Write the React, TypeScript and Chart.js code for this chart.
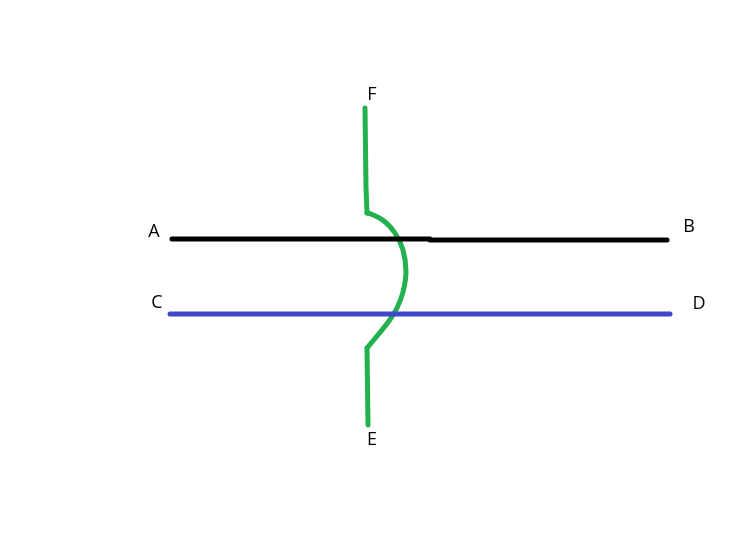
import React, { useEffect, useRef } from "react";
import { Chart, registerables } from "chart.js";

Chart.register(...registerables);

// Diagram coordinates (x to the right, y downward)
const lineAB = [
  { x: 172, y: 239 },
  { x: 430, y: 239 },
  { x: 430, y: 240 },
  { x: 667, y: 240 },
];
const lineCD = [
  { x: 170, y: 314 },
  { x: 670, y: 314 },
];
const greenTop = [
  { x: 365, y: 108 },
  { x: 366, y: 187 },
  { x: 367, y: 213 },
];
const greenCurve = [
  { x: 367, y: 213 },
  { x: 371, y: 214 },
  { x: 384, y: 221 },
  { x: 395, y: 233 },
  { x: 403, y: 250 },
  { x: 406, y: 272 },
  { x: 403, y: 292 },
  { x: 397, y: 308 },
  { x: 389, y: 321 },
  { x: 377, y: 336 },
  { x: 367, y: 348 },
];
const greenBottom = [
  { x: 367, y: 348 },
  { x: 368, y: 425 },
];
const pointLabels = ["A", "B", "C", "D", "E", "F"];
const labelX = [154, 689, 157, 699, 372, 372];
const labelY = [232, 227, 303, 304, 440, 95];

const labelPlugin = {
  id: "pointLabels",
  afterDatasetsDraw(chart: any) {
    const { ctx, scales } = chart;
    ctx.save();
    ctx.font = '18px "Open Sans", "DejaVu Sans", sans-serif';
    ctx.fillStyle = "#000000";
    ctx.textAlign = "center";
    ctx.textBaseline = "middle";
    pointLabels.forEach((t, i) => {
      ctx.fillText(t, scales.x.getPixelForValue(labelX[i]), scales.y.getPixelForValue(labelY[i]));
    });
    ctx.restore();
  },
};

export default function App() {
  const ref = useRef<HTMLCanvasElement>(null);
  useEffect(() => {
    if (!ref.current) return;
    const common = {
      showLine: true,
      pointRadius: 0,
      pointHoverRadius: 0,
      borderCapStyle: "round" as const,
      borderJoinStyle: "round" as const,
      fill: false,
    };
    const chart = new Chart(ref.current, {
      type: "scatter",
      data: {
        datasets: [
          { ...common, data: lineAB, borderColor: "#000000", borderWidth: 5, tension: 0 },
          { ...common, data: lineCD, borderColor: "#3F48CC", borderWidth: 5, tension: 0 },
          { ...common, data: greenTop, borderColor: "#22B14C", borderWidth: 5, tension: 0 },
          { ...common, data: greenCurve, borderColor: "#22B14C", borderWidth: 5, tension: 0.4 },
          { ...common, data: greenBottom, borderColor: "#22B14C", borderWidth: 5, tension: 0 },
        ],
      },
      options: {
        animation: false,
        responsive: false,
        maintainAspectRatio: false,
        layout: { padding: 0 },
        plugins: { legend: { display: false }, tooltip: { enabled: false } },
        events: [],
        scales: {
          x: { type: "linear", display: false, min: 0, max: 748 },
          y: { type: "linear", display: false, min: 0, max: 533, reverse: true },
        },
      },
      plugins: [labelPlugin],
    });
    return () => chart.destroy();
  }, []);
  return (
    <div style={{ position: "fixed", left: 0, top: 0, width: 748, height: 533, background: "#ffffff" }}>
      <canvas ref={ref} width={748} height={533} style={{ display: "block" }} />
    </div>
  );
}
